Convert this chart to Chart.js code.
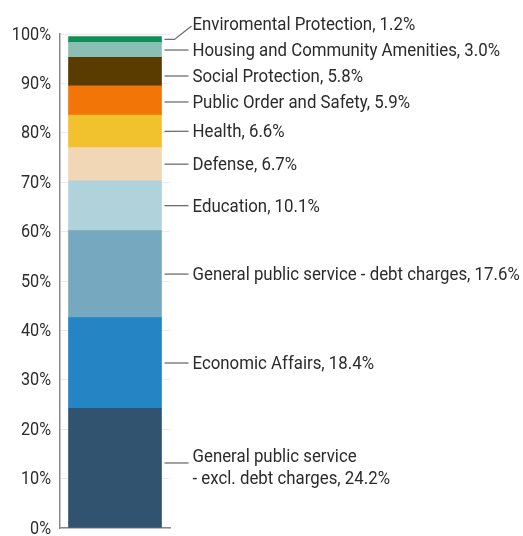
<!DOCTYPE html>
<html>
<head>
<meta charset="utf-8">
<script src="https://cdn.jsdelivr.net/npm/chart.js@4"></script>
<style>
  html, body { margin: 0; padding: 0; background: #fff; }
  #wrap { width: 523px; height: 536px; }
</style>
</head>
<body>
<div id="wrap"><canvas id="spendChart" width="523" height="536"></canvas></div>
<script>
// Spending categories, bottom of the stack first
var categories = [
  ['General public service', '- excl. debt charges'],
  ['Economic Affairs'],
  ['General public service - debt charges'],
  ['Education'],
  ['Defense'],
  ['Health'],
  ['Public Order and Safety'],
  ['Social Protection'],
  ['Housing and Community Amenities'],
  ['Enviromental Protection']
];
var shares = [24.2, 18.4, 17.6, 10.1, 6.7, 6.6, 5.9, 5.8, 3.0, 1.2];
var colors = ['#32536f', '#2584c3', '#76a9bf', '#b0d2db', '#f2d7b6',
              '#f2c12e', '#f27507', '#5a3c00', '#8bbfb3', '#0f8f55'];
var yTicks = [0, 10, 20, 30, 40, 50, 60, 70, 80, 90, 100];

var FONT = '18px Roboto, "Liberation Sans", sans-serif';
var TEXT = '#2b2b2b';

// condensed look: squeeze text horizontally
function narrowText(ctx, str, x, y, align, sx) {
  ctx.save();
  ctx.translate(x, y);
  ctx.scale(sx, 1);
  ctx.textAlign = align;
  ctx.fillText(str, 0, 0);
  ctx.restore();
}

var datasets = [];
for (let i = 0; i < shares.length; i++) {
  datasets.push({
    label: categories[i].join(' '),
    data: [shares[i]],
    backgroundColor: colors[i],
    borderWidth: 0,
    barThickness: 93,
    stack: 'total'
  });
}

// y tick labels, placed with the y scale
var tickLabels = {
  id: 'tickLabels',
  afterDraw: function(chart) {
    var ctx = chart.ctx;
    var y = chart.scales.y;
    ctx.save();
    ctx.font = FONT;
    ctx.fillStyle = TEXT;
    ctx.textBaseline = 'middle';
    yTicks.forEach(function(v) {
      narrowText(ctx, v + '%', y.right - 9, y.getPixelForValue(v) + 1, 'right', 0.9);
    });
    ctx.restore();
  }
};

// Labels to the right of the bar, with leader lines
var sideLabels = {
  id: 'sideLabels',
  afterDatasetsDraw: function(chart) {
    var ctx = chart.ctx;
    var items = [];
    chart.data.datasets.forEach(function(ds, i) {
      var bar = chart.getDatasetMeta(i).data[0];
      var lines = categories[i].slice();
      lines[lines.length - 1] += ', ' + shares[i].toFixed(1) + '%';
      items.push({
        mid: (bar.y + bar.base) / 2,
        right: bar.x + bar.width / 2,
        lines: lines
      });
    });
    // top of the stack first, then spread labels so they don't collide
    items.reverse();
    var ys = items.map(function(it) { return it.mid; });
    var gap = 26;
    for (let i = ys.length - 2; i >= 0; i--) {
      ys[i] = Math.min(ys[i], ys[i + 1] - gap);
    }
    var topMin = chart.chartArea.top - 10;
    if (ys[0] < topMin) {
      ys[0] = topMin;
      for (let i = 1; i < ys.length; i++) {
        ys[i] = Math.max(ys[i], ys[i - 1] + gap);
      }
    }

    ctx.save();
    ctx.font = FONT;
    ctx.fillStyle = TEXT;
    ctx.textBaseline = 'middle';
    ctx.strokeStyle = '#6e6e6e';
    ctx.lineWidth = 1.3;
    items.forEach(function(it, i) {
      var y = ys[i];
      var multi = it.lines.length > 1;
      var lineY = multi ? y - 5 : y;
      var x0 = it.right + 3;
      var x1 = it.right + 27;
      ctx.beginPath();
      if (Math.abs(lineY - it.mid) > 8) {
        ctx.moveTo(x0, it.mid);
        ctx.lineTo(x0 + 10, it.mid);
        ctx.lineTo(x1 + 3, lineY + 2);
      } else {
        ctx.moveTo(x0, lineY);
        ctx.lineTo(x1, lineY);
      }
      ctx.stroke();
      var tx = x1 + 4;
      if (multi) {
        narrowText(ctx, it.lines[0], tx, y - 10, 'left', 0.935);
        narrowText(ctx, it.lines[1], tx, y + 12, 'left', 0.935);
      } else {
        narrowText(ctx, it.lines[0], tx, y + 1.5, 'left', 0.935);
      }
    });
    ctx.restore();
  }
};

var ctx = document.getElementById('spendChart');
var myChart = new Chart(ctx, {
  type: 'bar',
  data: {
    labels: ['Spending'],
    datasets: datasets
  },
  options: {
    responsive: false,
    animation: false,
    layout: { padding: { top: 34, right: 353, bottom: 8, left: 10 } },
    plugins: {
      legend: { display: false },
      tooltip: { enabled: false }
    },
    scales: {
      x: {
        stacked: true,
        ticks: { display: false },
        grid: { display: false, drawTicks: false },
        border: { display: true, color: '#8a8a8a', width: 1.5 }
      },
      y: {
        stacked: true,
        min: 0,
        max: 100,
        afterBuildTicks: function(scale) {
          scale.ticks = yTicks.map(function(v) { return { value: v }; });
        },
        afterFit: function(scale) {
          scale.width = 50;
          scale.paddingTop = 0;
          scale.paddingBottom = 0;
        },
        ticks: { display: false },
        grid: { color: '#ececec', lineWidth: 1, drawTicks: false },
        border: { display: true, color: '#8a8a8a', width: 1.5 }
      }
    }
  },
  plugins: [sideLabels, tickLabels]
});
</script>
</body>
</html>
